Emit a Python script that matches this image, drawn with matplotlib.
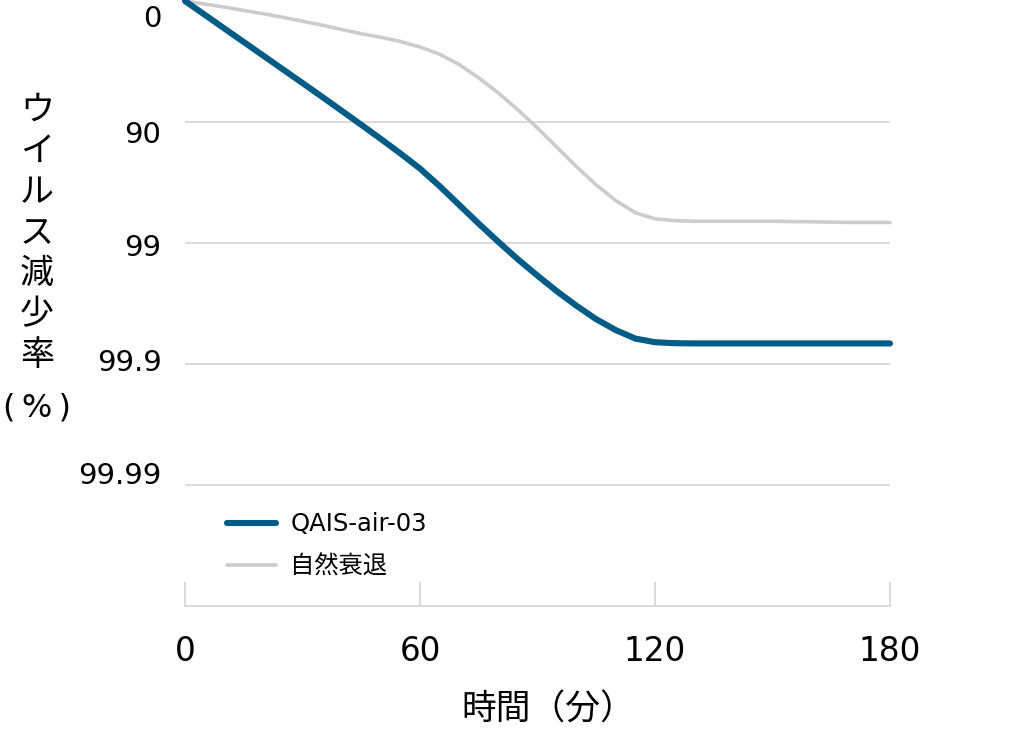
import matplotlib
matplotlib.use("Agg")
import matplotlib.pyplot as plt
from matplotlib.transforms import ScaledTranslation

plt.rcParams['font.family'] = ['DejaVu Sans', 'Noto Sans CJK JP']

# 時間（分）
time_min = [0, 5, 10, 15, 20, 25, 30, 35, 40, 45, 50, 55, 60, 65, 70, 75, 80, 85,
            90, 95, 100, 105, 110, 115, 120, 125, 130, 140, 150, 160, 170, 180]

# 対数減少値 (0 = 0%, 1 = 90%, 2 = 99%, ...)
qais_log = [0, 0.113, 0.226, 0.339, 0.452, 0.565, 0.678, 0.792, 0.907, 1.023, 1.14,
            1.26, 1.385, 1.53, 1.685, 1.84, 1.99, 2.135, 2.27, 2.40, 2.52, 2.63, 2.72,
            2.79, 2.82, 2.828, 2.83, 2.83, 2.83, 2.83, 2.83, 2.83]
natural_log = [0, 0.025, 0.05, 0.078, 0.105, 0.135, 0.167, 0.2, 0.235, 0.27, 0.30,
               0.335, 0.38, 0.44, 0.525, 0.635, 0.76, 0.90, 1.05, 1.21, 1.37, 1.52,
               1.65, 1.75, 1.80, 1.815, 1.82, 1.82, 1.82, 1.825, 1.83, 1.83]

series_names = ['QAIS-air-03', '自然衰退']
x_ticks = [0, 60, 120, 180]
y_ticks = [0, 1, 2, 3, 4]
y_tick_labels = ['0', '90', '99', '99.9', '99.99']

BLUE = '#005b87'
GRAY = '#cccccc'
GRID = '#d3d3d3'

fig = plt.figure(figsize=(10.26, 7.32), dpi=100)
ax = fig.add_axes([185 / 1026, 1 - 606 / 732, 705 / 1026, 605 / 732])

ax.hlines(y_ticks[1:], 0, 180, color=GRID, lw=1.2, zorder=1)

ax.plot(time_min, natural_log, color=GRAY, lw=2.6, solid_capstyle='round',
        solid_joinstyle='round', label=series_names[1], clip_on=False, zorder=2)
ax.plot(time_min, qais_log, color=BLUE, lw=4.4, solid_capstyle='round',
        solid_joinstyle='round', label=series_names[0], clip_on=False, zorder=3)

ax.set_xlim(0, 180)
ax.set_ylim(5, 0)

for s in ['top', 'right', 'left']:
    ax.spines[s].set_visible(False)
ax.spines['bottom'].set_color(GRID)
ax.spines['bottom'].set_linewidth(1.2)

ax.set_xticks(x_ticks)
ax.set_xticklabels([str(t) for t in x_ticks])
ax.tick_params(axis='x', direction='in', length=17, width=1.2, color=GRID,
               pad=21, labelsize=23.5)

ax.set_yticks(y_ticks)
ax.set_yticklabels(y_tick_labels)
ax.tick_params(axis='y', length=0, pad=17, labelsize=21)
# 目盛りラベルの微調整 (px, 下向き)
label_shift = [15, 10, 2, -4, -12]
for lab, dy in zip(ax.get_yticklabels(), label_shift):
    lab.set_transform(lab.get_transform() +
                      ScaledTranslation(0, -dy / 100, fig.dpi_scale_trans))

# 凡例
handles, labels = ax.get_legend_handles_labels()
ax.legend(handles[::-1], labels[::-1], loc='center left',
          bbox_to_anchor=(42 / 705, (606 - 545.5) / 605), frameon=False,
          fontsize=17.5, handlelength=2.0, handletextpad=0.6, labelspacing=0.75,
          borderpad=0, borderaxespad=0)

# 軸ラベル
fig.text(37 / 1026, 1 - 233 / 732, '\n'.join('ウイルス減少率'), ha='center',
         va='center', fontsize=24.5, linespacing=1.3)
fig.text(37 / 1026, 1 - 408 / 732, '(\u2009%\u2009)', ha='center', va='center',
         fontsize=23)
fig.text(548 / 1026, 1 - 710 / 732, '時間（分）', ha='center', va='center',
         fontsize=25)

fig.savefig('out.png', dpi=100)
